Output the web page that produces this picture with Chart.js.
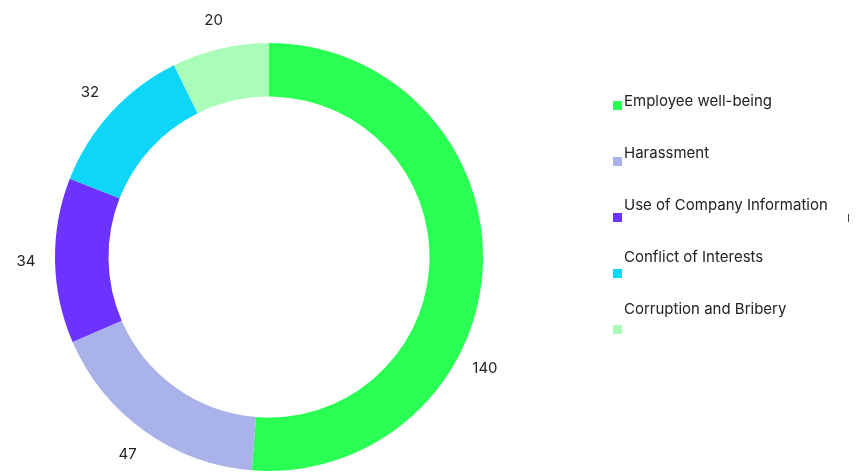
<!DOCTYPE html>
<html>
<head>
<meta charset="utf-8">
<script src="https://cdn.jsdelivr.net/npm/chart.js@4/dist/chart.umd.min.js"></script>
<style>
  html, body { margin: 0; padding: 0; background: #fff; }
  .wrap { position: relative; width: 860px; height: 472px; overflow: hidden; }
  #reportsChart { position: absolute; left: 0; top: 0; }
  .legend-text, .legend-boxes { position: absolute; margin: 0; padding: 0; list-style: none; }
  .legend-text { left: 624px; top: 92px; font: 15px Inter, "Open Sans", sans-serif; color: #222; }
  .legend-text li { height: 52px; line-height: 18px; }
  .legend-boxes { left: 613px; top: 101px; }
  .legend-boxes li { width: 9px; height: 9px; margin-bottom: 47px; }
  .tick { position: absolute; left: 848px; top: 214px; width: 1px; height: 8px; background: #444; }
</style>
</head>
<body>
<div class="wrap">
  <canvas id="reportsChart" width="860" height="472"></canvas>
  <ul class="legend-text" id="legendText"></ul>
  <ul class="legend-boxes" id="legendBoxes"></ul>
  <div class="tick"></div>
</div>
<script>
const categories = ['Employee well-being', 'Harassment', 'Use of Company Information', 'Conflict of Interests', 'Corruption and Bribery'];
const reportCounts = [140, 47, 34, 32, 20];
const sliceColors = ['#2aff53', '#a9b3ea', '#6c33ff', '#0ed6f9', '#a9fdb9'];

// value labels outside the ring, along each slice's middle angle
const outsideLabels = {
  id: 'outsideLabels',
  afterDatasetsDraw(chart, args, opts) {
    const { ctx } = chart;
    const meta = chart.getDatasetMeta(0);
    ctx.save();
    ctx.font = '15px Inter, "Open Sans", sans-serif';
    ctx.fillStyle = '#222';
    ctx.textAlign = 'center';
    ctx.textBaseline = 'middle';
    meta.data.forEach((arc, i) => {
      const shift = (opts.shift[i] || 0) * Math.PI / 180;
      const angle = (arc.startAngle + arc.endAngle) / 2 + shift;
      const r = arc.outerRadius + opts.offset;
      ctx.fillText(String(reportCounts[i]), arc.x + Math.cos(angle) * r, arc.y + Math.sin(angle) * r);
    });
    ctx.restore();
  }
};

const chart = new Chart(document.getElementById('reportsChart'), {
  type: 'doughnut',
  data: {
    labels: categories,
    datasets: [{
      data: reportCounts,
      backgroundColor: sliceColors,
      borderWidth: 0,
      hoverOffset: 0,
    }],
  },
  options: {
    responsive: false,
    animation: false,
    cutout: '75%',
    layout: { padding: { left: 55, right: 377, top: 42, bottom: 0 } },
    plugins: {
      legend: { display: false },
      tooltip: { enabled: false },
      outsideLabels: { offset: 29, shift: { 0: 25 } },
    },
  },
  plugins: [outsideLabels],
});

// html legend: names in one column, colour squares in another
const textList = document.getElementById('legendText');
const boxList = document.getElementById('legendBoxes');
categories.forEach((name, i) => {
  const li = document.createElement('li');
  li.textContent = name;
  textList.appendChild(li);
  const box = document.createElement('li');
  box.style.background = sliceColors[i];
  boxList.appendChild(box);
});
</script>
</body>
</html>
